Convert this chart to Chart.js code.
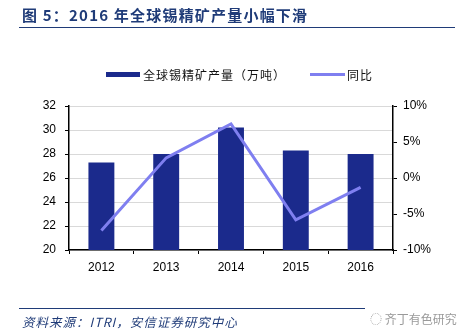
<!DOCTYPE html>
<html>
<head>
<meta charset="utf-8">
<script src="https://cdn.jsdelivr.net/npm/chart.js@4.4.1/dist/chart.umd.min.js"></script>
<style>
  html, body { margin: 0; padding: 0; background: #fff; }
  body { width: 470px; height: 329px; position: relative; overflow: hidden; }
  #chart { position: absolute; left: 0; top: 0; }
  .title {
    position: absolute; left: 22px; top: 4px;
    font: bold 15px "Noto Sans CJK SC", "Liberation Sans", sans-serif;
    letter-spacing: 1.2px; color: #1f3b78; white-space: nowrap;
  }
  .rule { position: absolute; height: 0; border-top: 1.5px solid #1f3b78; }
  .legend {
    position: absolute; top: 66px; font: 12px "Noto Sans CJK SC", sans-serif;
    letter-spacing: 1px; color: #111; white-space: nowrap;
  }
  .legend span { position: absolute; }
  .swatch { position: absolute; }
  .source {
    position: absolute; left: 22px; top: 312px;
    font: italic 12.5px "Noto Sans CJK SC", sans-serif;
    letter-spacing: 1px; color: #1f3b78; white-space: nowrap;
  }
  .mark {
    position: absolute; left: 370px; top: 310px;
    font: 12px "Noto Sans CJK SC", sans-serif; color: #9a9a9a; white-space: nowrap;
  }
</style>
</head>
<body>
<canvas id="chart" width="470" height="329"></canvas>
<div class="title">图 5：2016 年全球锡精矿产量小幅下滑</div>
<div class="rule" style="left:19px; top:27px; width:436px;"></div>

<div class="swatch" style="left:106px; top:72px; width:34px; height:5px; background:#1b2a8c;"></div>
<div class="legend" style="left:143px;"><span>全球锡精矿产量（万吨）</span></div>
<div class="swatch" style="left:310px; top:73px; width:35px; height:3px; background:#7f7ff0;"></div>
<div class="legend" style="left:347px;"><span>同比</span></div>

<div class="rule" style="left:19px; top:308px; width:346px;"></div>
<div class="source">资料来源：ITRI，安信证券研究中心</div>
<div class="mark">◌ 齐丁有色研究</div>

<script>
const years = ["2012", "2013", "2014", "2015", "2016"];
// global tin concentrate output, 10k tonnes
const output = [27.3, 28.0, 30.2, 28.3, 28.0];
// year-on-year change, %
const yoy = [-7.3, 2.8, 7.5, -5.8, -1.3];

const tickFont = { family: "Liberation Sans", size: 12 };

const ctx = document.getElementById("chart").getContext("2d");
const chart = new Chart(ctx, {
  data: {
    labels: years,
    datasets: [
      {
        type: "line",
        label: "同比",
        data: yoy,
        yAxisID: "y2",
        borderColor: "#7f7ff0",
        borderWidth: 3,
        pointRadius: 0,
        tension: 0,
        order: 0,
      },
      {
        type: "bar",
        label: "全球锡精矿产量（万吨）",
        data: output,
        yAxisID: "y",
        backgroundColor: "#1b2a8c",
        barPercentage: 0.4,
        categoryPercentage: 1,
        order: 1,
      },
    ],
  },
  options: {
    responsive: false,
    animation: false,
    layout: { padding: { top: 106, left: 0, right: 0, bottom: 0 } },
    plugins: {
      legend: { display: false },
      tooltip: { enabled: false },
    },
    scales: {
      x: {
        grid: { drawOnChartArea: false, tickLength: 4, tickColor: "#000", offset: true },
        border: { color: "#000", width: 1.5 },
        ticks: { color: "#000", font: tickFont, padding: 6 },
        afterFit: (s) => { s.height = 79; },
      },
      y: {
        position: "left",
        min: 20,
        max: 32,
        grid: { color: "#d9d9d9", tickColor: "#000", tickLength: 4 },
        border: { color: "#000", width: 1.5 },
        ticks: { stepSize: 2, color: "#000", font: tickFont, padding: 9 },
        afterFit: (s) => { s.width = 69; },
      },
      y2: {
        position: "right",
        min: -10,
        max: 10,
        grid: { drawOnChartArea: false, tickColor: "#000", tickLength: 4 },
        border: { color: "#000", width: 1.5 },
        ticks: {
          stepSize: 5,
          color: "#000",
          font: tickFont,
          padding: 6,
          callback: (v) => v + "%",
        },
        afterFit: (s) => { s.width = 77; },
      },
    },
  },
});
</script>
</body>
</html>
